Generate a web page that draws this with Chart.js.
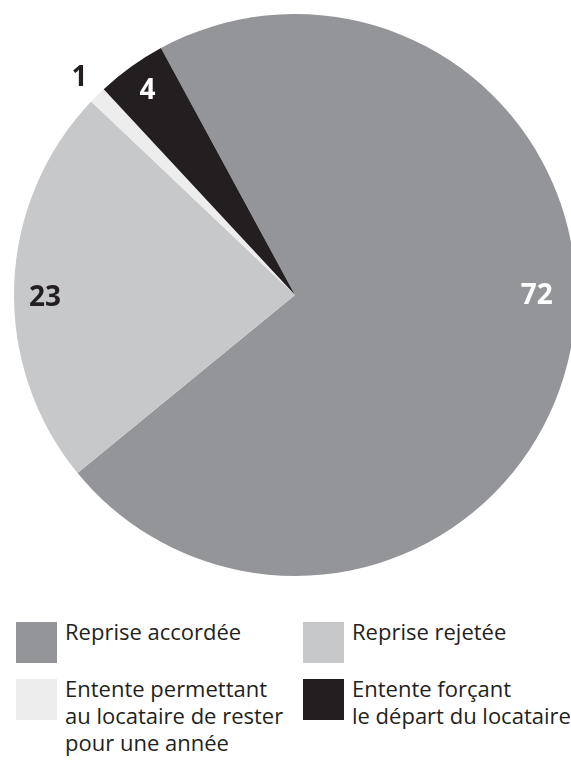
<!DOCTYPE html>
<html>
<head>
<meta charset="utf-8">
<script src="https://cdn.jsdelivr.net/npm/chart.js@4"></script>
<style>
    html, body {
        margin: 0;
        padding: 0;
        background: #ffffff;
        overflow: hidden;
        width: 571px;
        height: 761px;
    }

    #pieBox {
        position: absolute;
        left: 0;
        top: 0;
        width: 590px;
        height: 590px;
    }

    #legend {
        position: absolute;
        left: 16px;
        top: 622px;
        width: 600px;
        font-family: "Open Sans", sans-serif;
        font-size: 22px;
        line-height: 27px;
        color: #231f20;
    }

    .item {
        position: absolute;
        display: flex;
        align-items: flex-start;
        white-space: nowrap;
    }

    .swatch {
        width: 41px;
        height: 41px;
        margin-right: 8px;
        flex: none;
    }

    .txt {
        margin-top: -4px;
    }
</style>
</head>
<body>
<div id="pieBox"><canvas id="pieChart"></canvas></div>
<div id="legend"></div>

<script>
    const categories = [
        "Reprise accordée",
        "Reprise rejetée",
        "Entente permettant\nau locataire de rester\npour une année",
        "Entente forçant\nle départ du locataire",
    ];

    const values = [72, 23, 1, 4];

    const colors = ["#939598", "#c7c8ca", "#ededee", "#231f20"];

    const labelColors = ["#ffffff", "#231f20", "#231f20", "#ffffff"];

    const valueLabels = {
        id: "valueLabels",

        afterDatasetsDraw(chart, args, opts) {
            const ctx = chart.ctx;
            const meta = chart.getDatasetMeta(0);

            ctx.save();
            ctx.font = "bold 28px 'Open Sans', sans-serif";
            ctx.textAlign = "center";
            ctx.textBaseline = "middle";

            meta.data.forEach((arc, i) => {
                const p = arc.getProps(["x", "y", "startAngle", "endAngle", "outerRadius"], true);
                let angle = (p.startAngle + p.endAngle) / 2;

                if (opts.angles[i] !== null) {
                    angle = opts.angles[i];
                }

                const r = p.outerRadius * opts.radius[i];

                ctx.fillStyle = labelColors[i];
                ctx.fillText(String(values[i]), p.x + Math.cos(angle) * r, p.y + Math.sin(angle) * r + 1);
            });

            ctx.restore();
        },
    };

    new Chart(document.getElementById("pieChart").getContext("2d"), {
        type: "pie",

        data: {
            labels: categories,

            datasets: [
                {
                    data: values,

                    backgroundColor: colors,

                    borderWidth: 0,
                },
            ],
        },

        options: {
            responsive: true,

            maintainAspectRatio: false,

            animation: false,

            rotation: -28.5,

            layout: {
                padding: { top: 14, bottom: 14 },
            },

            plugins: {
                legend: { display: false },

                tooltip: { enabled: false },

                valueLabels: {
                    // radial place of each label, as a part of the radius
                    radius: [0.86, 0.89, 1.09, 0.9],

                    // null keeps the middle of the slice
                    angles: [0, Math.PI - 0.008, null, null],
                },
            },
        },

        plugins: [valueLabels],
    });

    // legend, two columns
    const legendSpots = [
        [0, 0],
        [287, 0],
        [0, 57],
        [287, 57],
    ];

    const legend = document.getElementById("legend");

    categories.forEach((name, i) => {
        const item = document.createElement("div");
        item.className = "item";
        item.style.left = legendSpots[i][0] + "px";
        item.style.top = legendSpots[i][1] + "px";

        const sw = document.createElement("div");
        sw.className = "swatch";
        sw.style.background = colors[i];

        const txt = document.createElement("div");
        txt.className = "txt";
        txt.innerHTML = name.split("\n").join("<br>");

        item.appendChild(sw);
        item.appendChild(txt);
        legend.appendChild(item);
    });
</script>
</body>
</html>
